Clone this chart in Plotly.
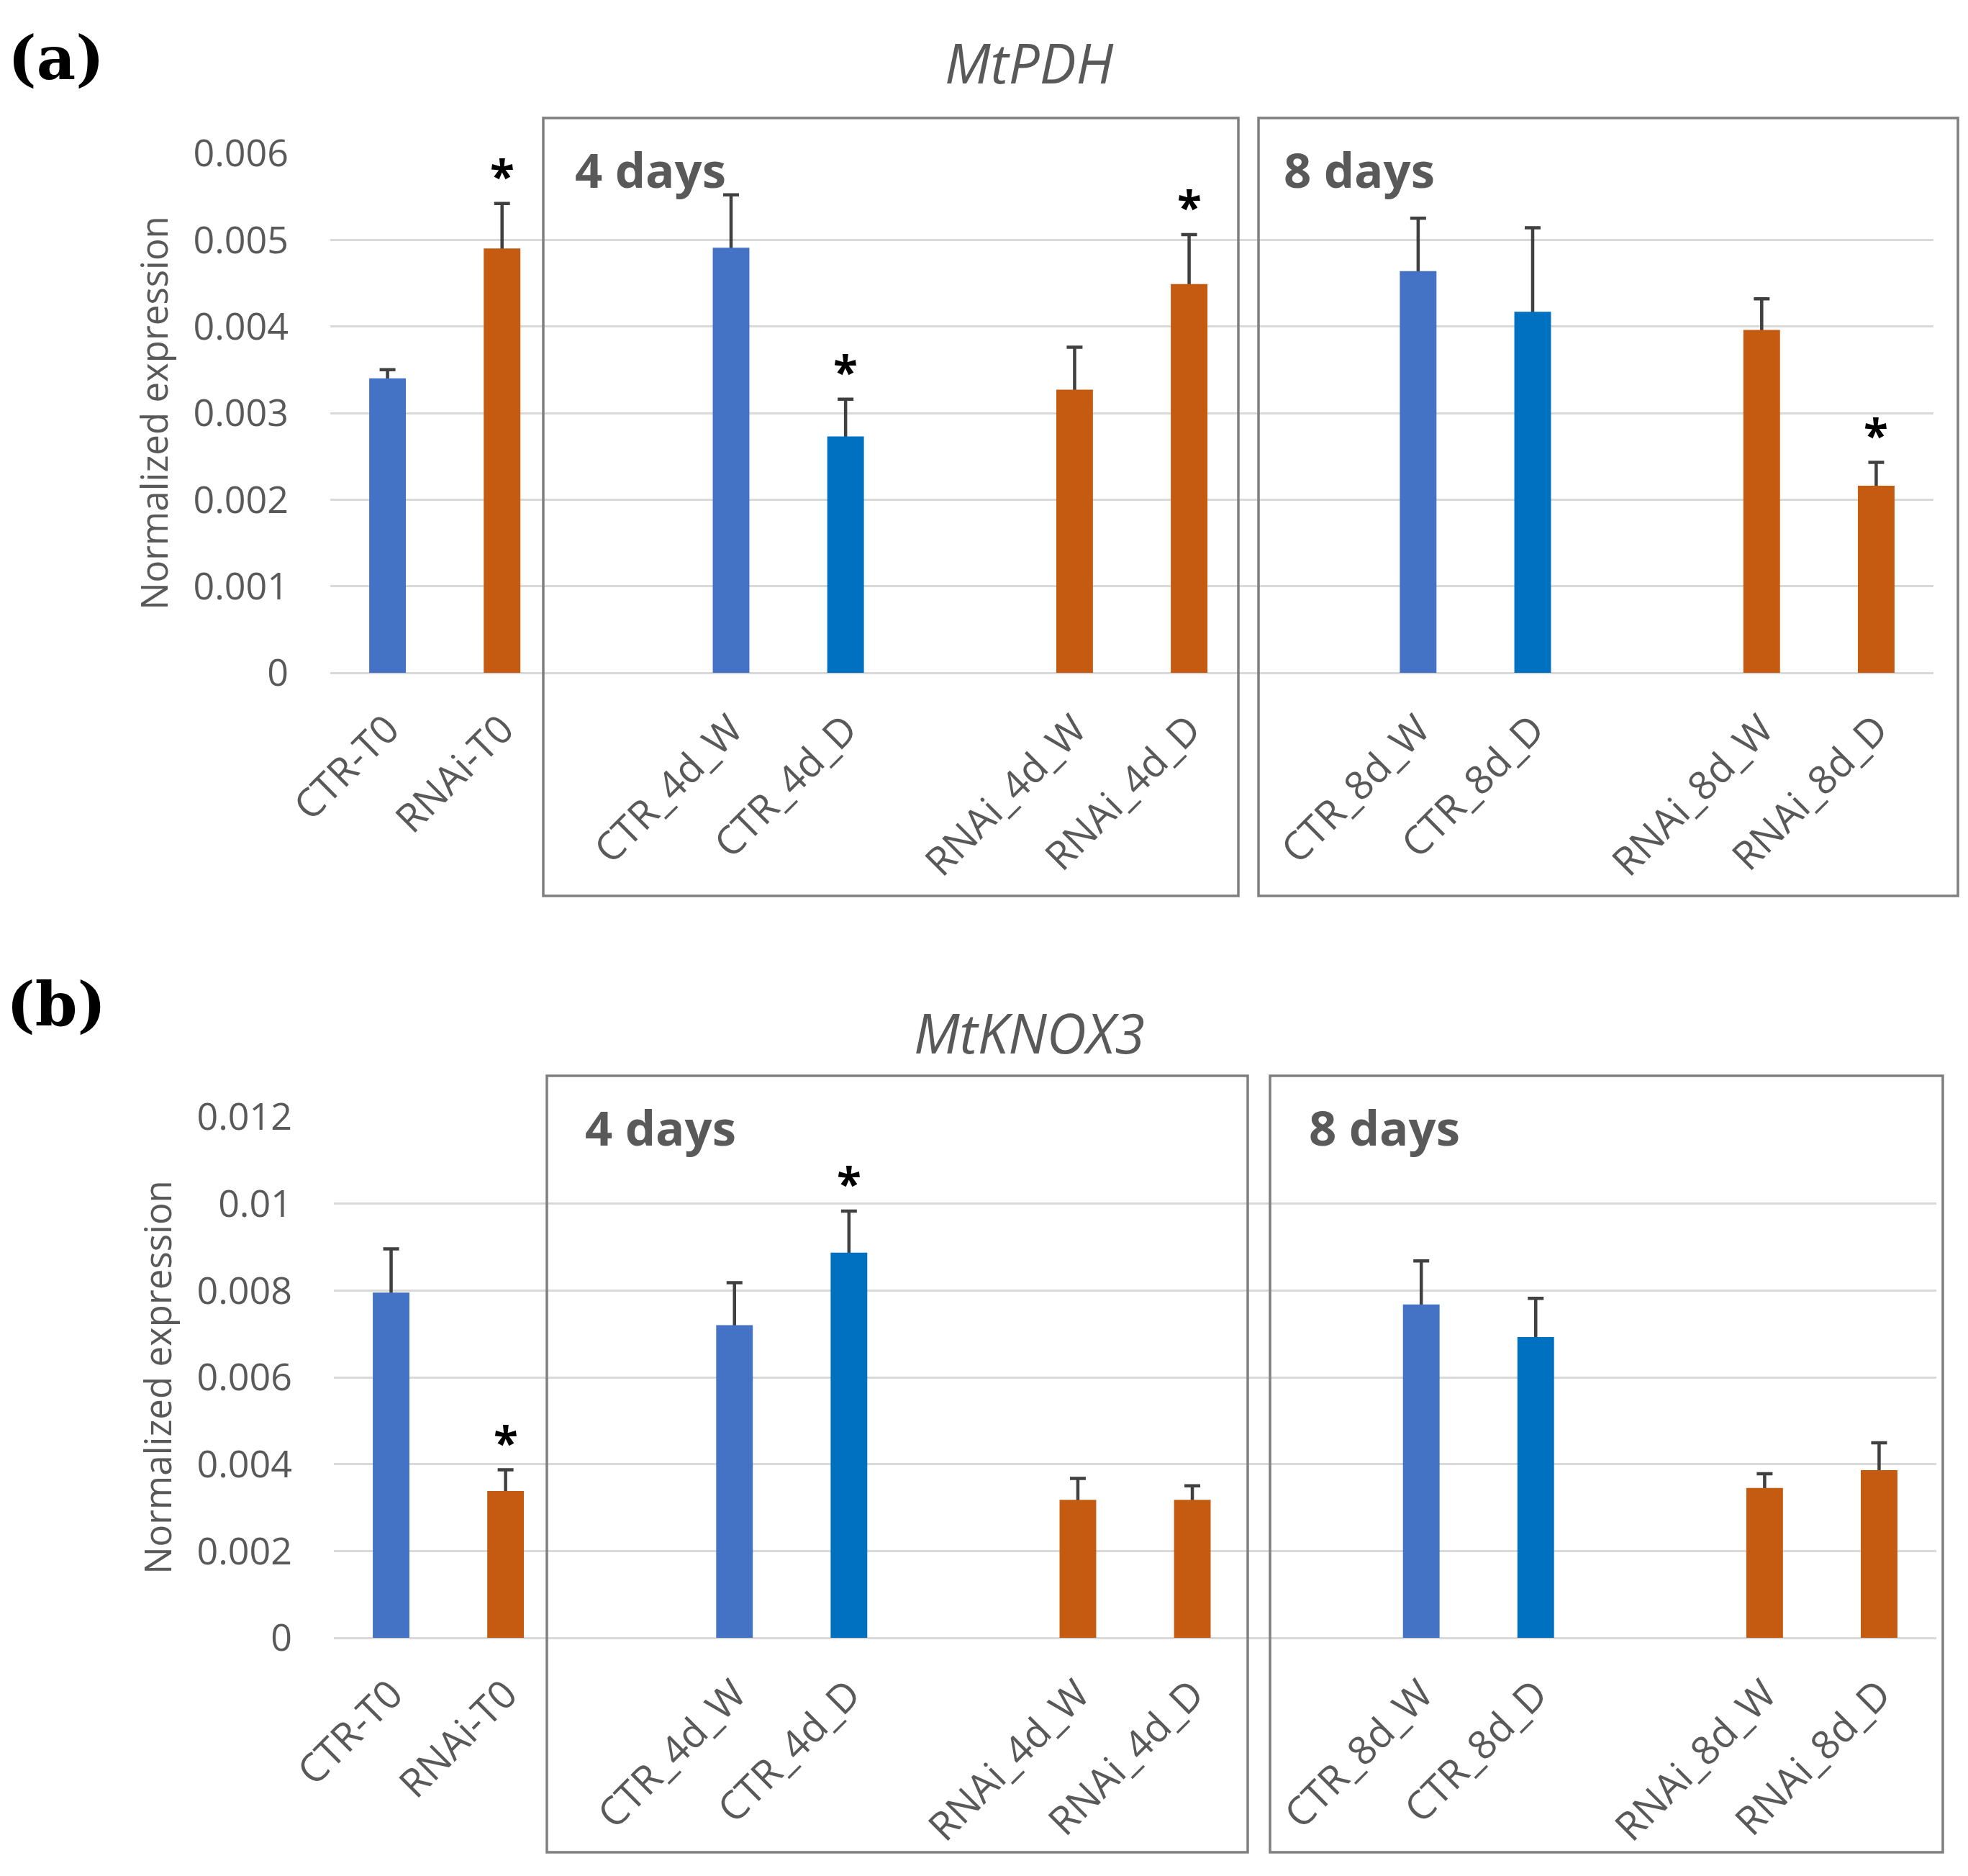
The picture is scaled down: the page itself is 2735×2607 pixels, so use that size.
import plotly.graph_objects as go

W, H = 2735, 2607
PAGE_OFFSET = 8  # default body margin of the html page

# ---------------- data ----------------
categories = ["CTR-T0", "RNAi-T0", "CTR_4d_W", "CTR_4d_D", "RNAi_4d_W",
              "RNAi_4d_D", "CTR_8d_W", "CTR_8d_D", "RNAi_8d_W", "RNAi_8d_D"]

pdh_mean = [0.00340, 0.00490, 0.00491, 0.00273, 0.00327,
            0.00449, 0.00464, 0.00417, 0.00396, 0.00216]
pdh_err = [0.00010, 0.00052, 0.00061, 0.00043, 0.00049,
           0.00057, 0.00061, 0.00097, 0.00036, 0.00027]
pdh_sig = [False, True, False, True, False, True, False, False, False, True]

knox_mean = [0.00795, 0.00338, 0.00720, 0.00887, 0.00318,
             0.00318, 0.00768, 0.00693, 0.00345, 0.00386]
knox_err = [0.00101, 0.00049, 0.00098, 0.00096, 0.00049,
            0.00032, 0.00100, 0.00089, 0.00033, 0.00063]
knox_sig = [False, True, False, True, False, False, False, False, False, False]

yticks_a = [0, 0.001, 0.002, 0.003, 0.004, 0.005, 0.006]
yticklabels_a = ["0", "0.001", "0.002", "0.003", "0.004", "0.005", "0.006"]
yticks_b = [0, 0.002, 0.004, 0.006, 0.008, 0.01, 0.012]
yticklabels_b = ["0", "0.002", "0.004", "0.006", "0.008", "0.01", "0.012"]

titles = ["MtPDH", "MtKNOX3"]
panel_tags = ["(a)", "(b)"]
group_labels = ["4 days", "8 days"]

# ---------------- styling ----------------
BLUE = "#4472C4"
BLUE2 = "#0070C0"
ORANGE = "#C55A11"
color_map = {"CTR-T0": BLUE, "RNAi-T0": ORANGE, "CTR_4d_W": BLUE, "CTR_4d_D": BLUE2,
             "RNAi_4d_W": ORANGE, "RNAi_4d_D": ORANGE, "CTR_8d_W": BLUE, "CTR_8d_D": BLUE2,
             "RNAi_8d_W": ORANGE, "RNAi_8d_D": ORANGE}
# slot order with empty spacer categories between the groups
slot_order = ["CTR-T0", "RNAi-T0", " ", "CTR_4d_W", "CTR_4d_D", "  ", "RNAi_4d_W",
              "RNAi_4d_D", "   ", "CTR_8d_W", "CTR_8d_D", "    ", "RNAi_8d_W", "RNAi_8d_D"]

GRAY_TXT = "#595959"
FONT = "Open Sans"
YTICK_SIZE = 52
XTICK_SIZE = 55


def px_x(p):
    return (p - PAGE_OFFSET) / W


def px_y(p):
    return 1 - (p - PAGE_OFFSET) / H


# panel geometry in pixels: (x_left, x_right, y_top(max), y_bottom(0))
panels = [
    dict(xl=459, xr=2687, yt=213, yb=935, ymax=0.006),
    dict(xl=464, xr=2691, yt=1552, yb=2276, ymax=0.012),
]
boxes = [
    [(755, 164, 1721, 1245), (1749, 164, 2721, 1245)],
    [(760, 1495, 1734, 2574), (1765, 1495, 2700, 2574)],
]
group_label_pos = [[(797, 235), (1782, 235)], [(811, 1566), (1817, 1566)]]
title_pos = [(1430, 87), (1430, 1434)]
tag_pos = [(78, 80), (78, 1395)]

fig = go.Figure()

datasets = [(pdh_mean, pdh_err, pdh_sig, yticks_a, yticklabels_a),
            (knox_mean, knox_err, knox_sig, yticks_b, yticklabels_b)]

annotations = []
shapes = []

for i, (mean, err, sig, tv, tt) in enumerate(datasets):
    xa = "x" if i == 0 else "x2"
    ya = "y" if i == 0 else "y2"
    # error bars (drawn underneath the coloured bars so only the upper part shows)
    fig.add_trace(go.Bar(
        x=categories, y=mean, xaxis=xa, yaxis=ya, width=0.32,
        marker=dict(color="rgba(0,0,0,0)", line=dict(width=0)),
        error_y=dict(type="data", symmetric=False, array=err,
                     arrayminus=[m * 0.5 for m in mean],
                     color="#404040", thickness=4.5, width=11),
        showlegend=False, hoverinfo="skip"))
    fig.add_trace(go.Bar(
        x=categories, y=mean, xaxis=xa, yaxis=ya, width=0.32,
        marker=dict(color=[color_map[c] for c in categories], line=dict(width=0)),
        showlegend=False))
    for c, m, e, s in zip(categories, mean, err, sig):
        if s:
            annotations.append(dict(
                x=c, y=m + e, xref=xa, yref=ya, text="<b>*</b>", showarrow=False,
                xanchor="center", yanchor="bottom", yshift=-5,
                font=dict(family=FONT, size=62, color="#000000")))

    p = panels[i]
    axis_x = dict(
        type="category", categoryorder="array", categoryarray=slot_order,
        range=[-0.5, len(slot_order) - 0.5],
        domain=[px_x(p["xl"]), px_x(p["xr"])], anchor=ya, automargin=False,
        tickangle=-45, tickfont=dict(family=FONT, size=XTICK_SIZE, color=GRAY_TXT),
        showline=False, showgrid=False, zeroline=False, ticks="",
        ticklabelstandoff=34, fixedrange=True)
    axis_y = dict(
        range=[0, p["ymax"]], domain=[px_y(p["yb"]), px_y(p["yt"])], anchor=xa,
        automargin=False,
        tickvals=tv, ticktext=tt,
        tickfont=dict(family=FONT, size=YTICK_SIZE, color=GRAY_TXT),
        showgrid=True, gridcolor="#D9D9D9", gridwidth=3,
        zeroline=True, zerolinecolor="#D9D9D9", zerolinewidth=3,
        showline=False, ticks="", ticklabelstandoff=57,
        title=dict(text="Normalized expression",
                   font=dict(family=FONT, size=51, color=GRAY_TXT), standoff=18),
        fixedrange=True)
    if i == 0:
        fig.update_layout(xaxis=axis_x, yaxis=axis_y)
    else:
        fig.update_layout(xaxis2=axis_x, yaxis2=axis_y)

    for (x0, y0, x1, y1) in boxes[i]:
        shapes.append(dict(type="rect", xref="paper", yref="paper",
                           x0=px_x(x0), x1=px_x(x1), y0=px_y(y1), y1=px_y(y0),
                           line=dict(color="#7F7F7F", width=3.5),
                           fillcolor="rgba(0,0,0,0)", layer="above"))
    for lbl, (gx, gy) in zip(group_labels, group_label_pos[i]):
        annotations.append(dict(
            x=px_x(gx), y=px_y(gy), xref="paper", yref="paper", text="<b>" + lbl + "</b>",
            showarrow=False, xanchor="left", yanchor="middle",
            font=dict(family=FONT, size=67, color=GRAY_TXT)))
    tx, ty = title_pos[i]
    annotations.append(dict(
        x=px_x(tx), y=px_y(ty), xref="paper", yref="paper", text="<i>" + titles[i] + "</i>",
        showarrow=False, xanchor="center", yanchor="middle",
        font=dict(family=FONT, size=76, color=GRAY_TXT)))
    gx, gy = tag_pos[i]
    annotations.append(dict(
        x=px_x(gx), y=px_y(gy), xref="paper", yref="paper", text="<b>" + panel_tags[i] + "</b>",
        showarrow=False, xanchor="center", yanchor="middle",
        font=dict(family="DejaVu Serif", size=84, color="#000000")))

fig.update_layout(
    width=W, height=H, margin=dict(l=0, r=0, t=0, b=0, pad=0),
    paper_bgcolor="white", plot_bgcolor="white",
    barmode="overlay", showlegend=False,
    annotations=annotations, shapes=shapes)

fig.write_html("out.html")
